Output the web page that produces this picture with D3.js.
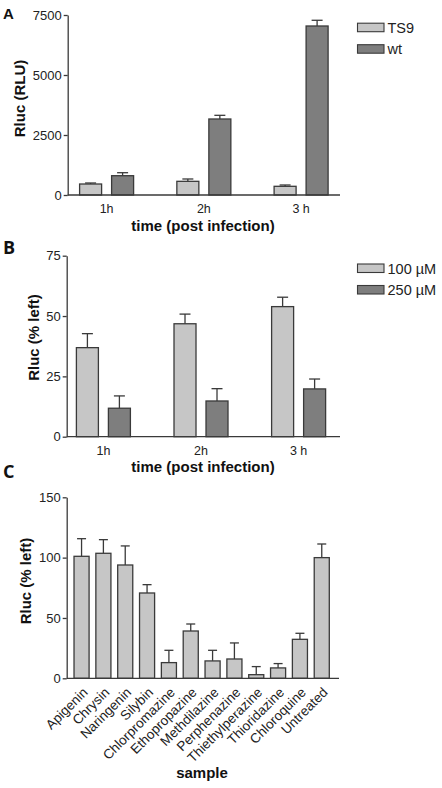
<!DOCTYPE html>
<html>
<head>
<meta charset="utf-8">
<script src="https://cdn.jsdelivr.net/npm/d3@7"></script>
<style>
  html, body { margin: 0; padding: 0; background: #fff; }
  svg { display: block; }
  svg text { font-family: "Liberation Sans", Arimo, Arial, Helvetica, sans-serif; }
  svg text.letter { font-family: "Open Sans", "Noto Sans", sans-serif; }
</style>
</head>
<body>
<svg id="chart" width="442" height="788"></svg>
<script>
// ---------- DATA ----------
const timeCategories = ["1h", "2h", "3 h"];

// Panel A
const seriesA = ["TS9", "wt"];
const valuesA_TS9 = [458, 570, 362];
const errA_TS9 = [500, 667, 417];
const valuesA_wt = [804, 3167, 7042];
const errA_wt = [929, 3320, 7280];
const ticksA = [0, 2500, 5000, 7500];

// Panel B
const seriesB = ["100 µM", "250 µM"];
const valuesB_100 = [36.9, 46.8, 53.9];
const errB_100 = [42.7, 50.8, 57.8];
const valuesB_250 = [11.8, 14.8, 19.8];
const errB_250 = [16.9, 19.9, 23.9];
const ticksB = [0, 25, 50, 75];

// Panel C
const samplesC = ["Apigenin", "Chrysin", "Naringenin", "Silybin", "Chlorpromazine",
  "Ethopropazine", "Methdilazine", "Perphenazine", "Thiethylperazine", "Thioridazine",
  "Chloroquine", "Untreated"];
const valuesC = [101.1, 103.6, 93.9, 70.7, 13.0, 39.2, 14.4, 16.0, 3.0, 8.6, 32.3, 100.0];
const errC = [115.7, 114.9, 109.7, 77.6, 23.2, 45.0, 23.2, 29.3, 9.7, 12.2, 37.3, 111.3];
const ticksC = [0, 50, 100, 150];

// ---------- STYLE ----------
const LIGHT = "#c6c6c6";
const DARK = "#7e7e7e";
const STROKE = "#3a3a3a";
const AXIS = "#3a3a3a";
const FONT = "'Liberation Sans', Arimo, Arial, Helvetica, sans-serif";

const svg = d3.select("#chart");

function yAxisDraw(g, y, ticks, x0) {
  const ax = g.append("g").attr("transform", `translate(${x0},0)`)
    .call(d3.axisLeft(y).tickValues(ticks).tickSize(4).tickSizeOuter(0).tickPadding(2).tickFormat(d3.format("d")));
  ax.attr("font-family", FONT);
  ax.select(".domain").attr("stroke", AXIS).attr("stroke-width", 1.3);
  ax.selectAll(".tick line").attr("stroke", AXIS).attr("stroke-width", 1.3);
  ax.selectAll(".tick text").attr("font-size", 13).attr("fill", "#222").attr("font-family", FONT);
  return ax;
}

function grouped(cfg) {
  const g = svg.append("g");
  const y = d3.scaleLinear().domain(cfg.domain).range([cfg.y0, cfg.y1]);
  const x0 = d3.scalePoint().domain(timeCategories).range([cfg.xl, cfg.xr]).padding(0.4).align(cfg.align);
  const x1 = d3.scaleBand().domain(cfg.series).range([-27, 27]).paddingInner(0.3125).paddingOuter(0);
  const colors = d3.scaleOrdinal().domain(cfg.series).range([LIGHT, DARK]);

  const rows = [];
  timeCategories.forEach((c, i) => {
    cfg.series.forEach((s, j) => {
      rows.push({ cat: c, s: s, v: cfg.values[j][i], e: cfg.errs[j][i] });
    });
  });

  const eb = g.append("g").attr("stroke", STROKE).attr("stroke-width", 1.3);
  rows.forEach(d => {
    const cx = x0(d.cat) + x1(d.s) + x1.bandwidth() / 2;
    eb.append("line").attr("x1", cx).attr("x2", cx).attr("y1", y(d.v)).attr("y2", y(d.e));
    eb.append("line").attr("x1", cx - x1.bandwidth() / 4).attr("x2", cx + x1.bandwidth() / 4)
      .attr("y1", y(d.e)).attr("y2", y(d.e));
  });

  g.append("g").selectAll("rect").data(rows).join("rect")
    .attr("x", d => x0(d.cat) + x1(d.s))
    .attr("y", d => y(d.v))
    .attr("width", x1.bandwidth())
    .attr("height", d => y(0) - y(d.v))
    .attr("fill", d => colors(d.s))
    .attr("stroke", STROKE).attr("stroke-width", 1.3);

  yAxisDraw(g, y, cfg.ticks, cfg.xl);
  g.append("line").attr("x1", cfg.xl).attr("x2", cfg.xr).attr("y1", y(0)).attr("y2", y(0))
    .attr("stroke", AXIS).attr("stroke-width", 1.3);
  g.append("g").selectAll("text").data(timeCategories).join("text")
    .attr("x", d => x0(d)).attr("y", y(0) + 18)
    .attr("text-anchor", "middle").attr("font-size", 12.5).attr("fill", "#222")
    .text(d => d);

  g.append("text").attr("x", 203).attr("y", y(0) + 35.7).attr("text-anchor", "middle")
    .attr("font-size", 15).attr("font-weight", "bold").attr("fill", "#111").text("time (post infection)");
  g.append("text").attr("transform", `translate(${cfg.ylabX},${cfg.ylabY}) rotate(-90)`)
    .attr("text-anchor", "middle").attr("font-size", 15).attr("font-weight", "bold").attr("fill", "#111")
    .text(cfg.ylabel);
  g.append("text").attr("class", cfg.letterClass).attr("x", 3).attr("y", cfg.letterY).attr("font-size", cfg.letterSize)
    .attr("font-weight", "bold").attr("fill", "#111").text(cfg.letter);

  const lg = g.append("g").attr("transform", `translate(357.5,${cfg.legY})`);
  cfg.series.forEach((s, j) => {
    lg.append("rect").attr("x", 0).attr("y", j * 21.5).attr("width", 26.5).attr("height", 8.5)
      .attr("fill", colors(s)).attr("stroke", STROKE).attr("stroke-width", 1.1);
    lg.append("text").attr("x", 30).attr("y", j * 21.5 + 9.8).attr("font-size", 14.5).attr("fill", "#222").text(s);
  });
}

grouped({
  series: seriesA, values: [valuesA_TS9, valuesA_wt], errs: [errA_TS9, errA_wt],
  domain: [0, 7500], y0: 195, y1: 15, xl: 67.7, xr: 340, align: 0.5, ticks: ticksA,
  ylabel: "Rluc (RLU)", ylabX: 24.5, ylabY: 98.5,
  letter: "A", letterY: 18.5, letterSize: 15, letterClass: "",
  legY: 23.2
});

grouped({
  series: seriesB, values: [valuesB_100, valuesB_250], errs: [errB_100, errB_250],
  domain: [0, 75], y0: 436.7, y1: 255.7, xl: 66.7, xr: 340, align: 0.47, ticks: ticksB,
  ylabel: "Rluc (% left)", ylabX: 38.5, ylabY: 337.5,
  letter: "B", letterY: 253.5, letterSize: 18, letterClass: "letter",
  legY: 264
});

// ---------- PANEL C ----------
(function () {
  const g = svg.append("g");
  const y = d3.scaleLinear().domain([0, 150]).range([678.3, 497.3]);
  const x = d3.scaleBand().domain(samplesC).range([66.7, 339])
    .paddingInner(0.31).paddingOuter(0.39).align(0.43);
  const rows = samplesC.map((s, i) => ({ s, v: valuesC[i], e: errC[i] }));

  const eb = g.append("g").attr("stroke", STROKE).attr("stroke-width", 1.3);
  rows.forEach(d => {
    const cx = x(d.s) + x.bandwidth() / 2;
    eb.append("line").attr("x1", cx).attr("x2", cx).attr("y1", y(d.v)).attr("y2", y(d.e));
    eb.append("line").attr("x1", cx - 4.5).attr("x2", cx + 4.5).attr("y1", y(d.e)).attr("y2", y(d.e));
  });

  g.append("g").selectAll("rect").data(rows).join("rect")
    .attr("x", d => x(d.s)).attr("y", d => y(d.v))
    .attr("width", x.bandwidth()).attr("height", d => y(0) - y(d.v))
    .attr("fill", LIGHT).attr("stroke", STROKE).attr("stroke-width", 1.3);

  yAxisDraw(g, y, ticksC, 66.7);
  g.append("line").attr("x1", 66.7).attr("x2", 339).attr("y1", y(0)).attr("y2", y(0))
    .attr("stroke", AXIS).attr("stroke-width", 1.3);

  g.append("g").selectAll("text").data(samplesC).join("text")
    .attr("transform", d => `translate(${x(d) + x.bandwidth() / 2},${y(0) + 8}) rotate(-45)`)
    .attr("text-anchor", "end").attr("dy", "0.72em").attr("font-size", 13.5).attr("fill", "#222")
    .text(d => d);

  g.append("text").attr("x", 202).attr("y", 778.3).attr("text-anchor", "middle")
    .attr("font-size", 15).attr("font-weight", "bold").attr("fill", "#111").text("sample");
  g.append("text").attr("transform", "translate(31,581) rotate(-90)")
    .attr("text-anchor", "middle").attr("font-size", 15).attr("font-weight", "bold").attr("fill", "#111")
    .text("Rluc (% left)");
  g.append("text").attr("class", "letter").attr("x", 3).attr("y", 478).attr("font-size", 18)
    .attr("font-weight", "bold").attr("fill", "#111").text("C");
})();
</script>
</body>
</html>
